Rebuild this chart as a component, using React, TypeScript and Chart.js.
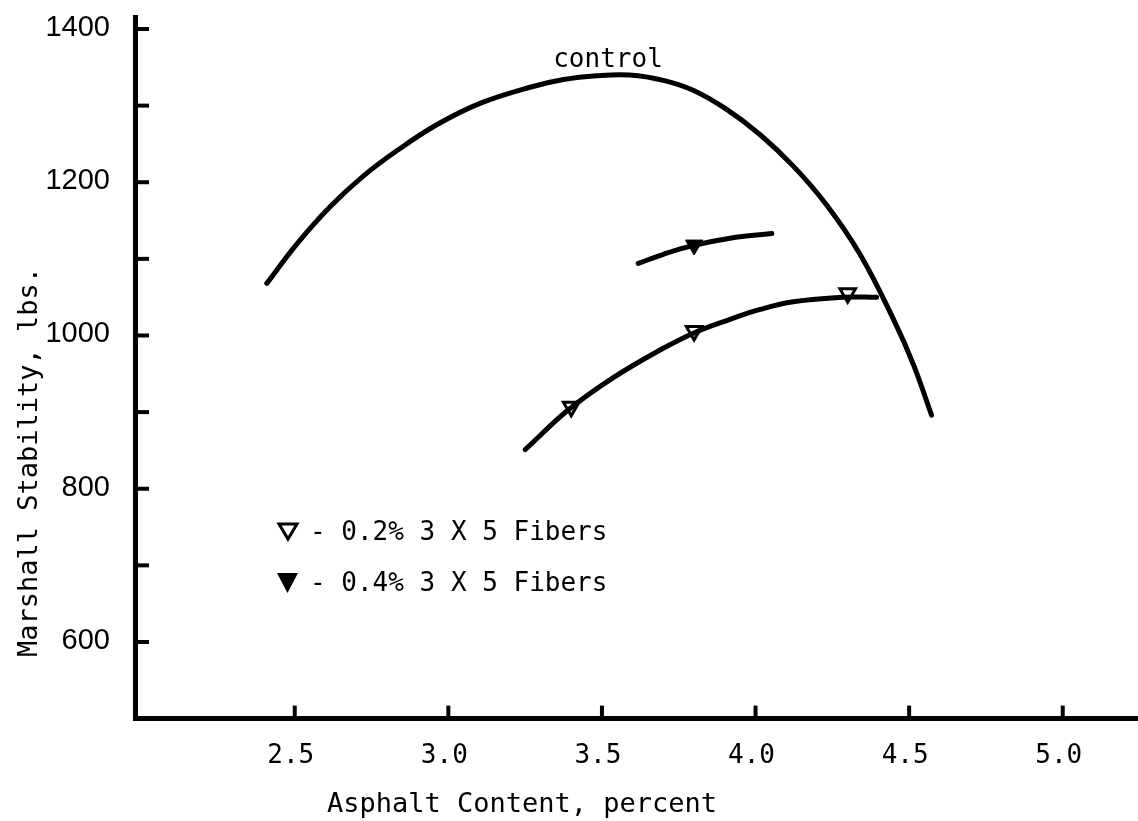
import React, { useEffect, useRef } from 'react';
import { Chart, registerables } from 'chart.js';

Chart.register(...registerables);

// ---- Axis ticks and labels ----
const xTickValues = [2.5, 3.0, 3.5, 4.0, 4.5, 5.0];
const xTickLabels = ['2.5', '3.0', '3.5', '4.0', '4.5', '5.0'];
const yTickValues = [600, 700, 800, 900, 1000, 1100, 1200, 1300, 1400];
const yLabelledValues = [600, 800, 1000, 1200, 1400];
const xAxisTitle = 'Asphalt Content, percent';
const yAxisTitle = 'Marshall Stability, lbs.';
const controlLabel = 'control';
const legendLabels = ['- 0.2% 3 X 5 Fibers', '- 0.4% 3 X 5 Fibers'];

// ---- Control curve ----
const controlX = [2.409, 2.506, 2.615, 2.723, 2.832, 2.962, 3.103, 3.266, 3.375, 3.483, 3.590, 3.700, 3.797, 3.906, 4.015, 4.123, 4.232, 4.340, 4.448, 4.514, 4.573];
const controlY = [1068, 1119, 1168, 1208, 1241, 1275, 1303, 1324, 1334, 1339, 1340, 1333, 1320, 1295, 1262, 1221, 1170, 1106, 1022, 962, 896];

// ---- 0.2% fibers curve ----
const fiber02LineX = [3.250, 3.391, 3.537, 3.689, 3.803, 3.917, 4.015, 4.123, 4.291, 4.394];
const fiber02LineY = [851, 903, 945, 981, 1004, 1021, 1034, 1044, 1050, 1050];
const fiber02MarkX = [3.4, 3.8, 4.3];
const fiber02MarkY = [907, 1006, 1055];

// ---- 0.4% fibers curve ----
const fiber04LineX = [3.618, 3.700, 3.792, 3.917, 4.053];
const fiber04LineY = [1094, 1106, 1117, 1127, 1133];
const fiber04MarkX = [3.8];
const fiber04MarkY = [1118];

const zip = (xs: number[], ys: number[]) => xs.map((x, i) => ({ x, y: ys[i] }));

const MONO = '"DejaVu Sans Mono", "Liberation Mono", monospace';
const SANS = '"Liberation Sans", Arial, sans-serif';

// plot frame (pixels)
const FRAME = { left: 135, right: 1138, top: 17.5, bottom: 718.6 };

const framePlugin = {
  id: 'frame',
  afterLayout(chart: any) {
    const xs = chart.scales.x;
    const ys = chart.scales.y;
    const ca = chart.chartArea;
    ca.left = FRAME.left; ca.right = FRAME.right; ca.top = FRAME.top; ca.bottom = FRAME.bottom;
    ca.width = FRAME.right - FRAME.left; ca.height = FRAME.bottom - FRAME.top;
    xs.left = FRAME.left; xs.right = FRAME.right; xs.width = FRAME.right - FRAME.left;
    xs.top = FRAME.bottom; xs.bottom = chart.height; xs.height = xs.bottom - xs.top;
    ys.left = 0; ys.right = FRAME.left; ys.width = FRAME.left;
    ys.top = FRAME.top; ys.bottom = FRAME.bottom; ys.height = FRAME.bottom - FRAME.top;
    xs.configure();
    ys.configure();
  },
};

const decorPlugin = {
  id: 'decor',
  afterDraw(chart: any) {
    const ctx = chart.ctx as CanvasRenderingContext2D;
    const area = chart.chartArea;
    const xs = chart.scales.x;
    const ys = chart.scales.y;
    ctx.save();
    ctx.strokeStyle = '#000';
    ctx.fillStyle = '#000';
    ctx.lineCap = 'butt';
    // inward tick marks
    ctx.lineWidth = 4;
    yTickValues.forEach((v) => {
      const py = ys.getPixelForValue(v);
      ctx.beginPath();
      ctx.moveTo(area.left, py);
      ctx.lineTo(area.left + 14, py);
      ctx.stroke();
    });
    xTickValues.forEach((v) => {
      const px = xs.getPixelForValue(v);
      ctx.beginPath();
      ctx.moveTo(px, area.bottom);
      ctx.lineTo(px, area.bottom - 13);
      ctx.stroke();
    });

    // tick labels
    ctx.font = `29px ${SANS}`;
    ctx.textAlign = 'right';
    ctx.textBaseline = 'middle';
    yLabelledValues.forEach((v) => {
      ctx.fillText(String(v), 110, ys.getPixelForValue(v) - 1);
    });
    ctx.font = `26px ${MONO}`;
    ctx.textAlign = 'center';
    ctx.textBaseline = 'alphabetic';
    xTickValues.forEach((v, i) => {
      ctx.fillText(xTickLabels[i], xs.getPixelForValue(v) - 4, 763);
    });

    // axis titles
    ctx.font = `27px ${MONO}`;
    ctx.textAlign = 'center';
    ctx.fillText(xAxisTitle, 522, 812);
    ctx.save();
    ctx.translate(37, 462);
    ctx.rotate(-Math.PI / 2);
    ctx.fillText(yAxisTitle, 0, 0);
    ctx.restore();

    // control label
    ctx.font = `26px ${MONO}`;
    ctx.fillText(controlLabel, 608, 67);

    // legend
    ctx.textAlign = 'left';
    ctx.fillText(legendLabels[0], 310, 540);
    ctx.fillText(legendLabels[1], 310, 591);
    ctx.lineWidth = 3;
    ctx.lineJoin = 'miter';
    ctx.beginPath();
    ctx.moveTo(279, 524);
    ctx.lineTo(297, 524);
    ctx.lineTo(288, 539);
    ctx.closePath();
    ctx.stroke();
    ctx.beginPath();
    ctx.moveTo(277, 573);
    ctx.lineTo(298, 573);
    ctx.lineTo(287.5, 593);
    ctx.closePath();
    ctx.fill();
    ctx.restore();
  },
};

export default function App() {
  const canvasRef = useRef<HTMLCanvasElement | null>(null);

  useEffect(() => {
    const canvas = canvasRef.current;
    if (!canvas) return;
    const lineBase = {
      type: 'line' as const,
      borderColor: '#000',
      borderWidth: 5,
      pointRadius: 0,
      fill: false,
      tension: 0.4,
      showLine: true,
      borderCapStyle: 'round' as const,
    };
    const chart = new Chart(canvas, {
      type: 'scatter',
      data: {
        datasets: [
          { ...lineBase, label: 'control', data: zip(controlX, controlY) },
          { ...lineBase, label: '0.2% line', data: zip(fiber02LineX, fiber02LineY) },
          { ...lineBase, label: '0.4% line', data: zip(fiber04LineX, fiber04LineY) },
          {
            type: 'scatter' as const,
            label: '0.2% 3 X 5 Fibers',
            data: zip(fiber02MarkX, fiber02MarkY),
            pointStyle: 'triangle',
            rotation: 180,
            pointRadius: 9,
            pointBackgroundColor: '#fff',
            pointBorderColor: '#000',
            pointBorderWidth: 3,
          },
          {
            type: 'scatter' as const,
            label: '0.4% 3 X 5 Fibers',
            data: zip(fiber04MarkX, fiber04MarkY),
            pointStyle: 'triangle',
            rotation: 180,
            pointRadius: 10,
            pointBackgroundColor: '#000',
            pointBorderColor: '#000',
            pointBorderWidth: 1,
          },
        ],
      } as any,
      options: {
        responsive: false,
        animation: false,
        devicePixelRatio: 1,
        layout: { padding: { top: 17.5, right: 0, left: 0, bottom: 0 } },
        plugins: {
          legend: { display: false },
          tooltip: { enabled: false },
          title: { display: false },
        },
        scales: {
          x: {
            type: 'linear',
            min: 1.98,
            max: 5.245,
            afterFit: (s: any) => { s.height = 821 - 718.6; },
            afterBuildTicks: (s: any) => { s.ticks = xTickValues.map((v) => ({ value: v })); },
            grid: { display: true, drawOnChartArea: false, drawTicks: false },
            border: { display: true, color: '#000', width: 5 },
            ticks: { display: false },
          },
          y: {
            type: 'linear',
            min: 500,
            max: 1415,
            afterFit: (s: any) => { s.width = 135; },
            afterBuildTicks: (s: any) => { s.ticks = yTickValues.map((v) => ({ value: v })); },
            grid: { display: true, drawOnChartArea: false, drawTicks: false },
            border: { display: true, color: '#000', width: 5 },
            ticks: { display: false },
          },
        },
      } as any,
      plugins: [framePlugin, decorPlugin],
    });
    return () => chart.destroy();
  }, []);

  return (
    <div style={{ position: 'absolute', left: 0, top: 0, width: 1138, height: 821, background: '#fff' }}>
      <canvas ref={canvasRef} width={1138} height={821} style={{ display: 'block', width: 1138, height: 821 }} />
    </div>
  );
}
